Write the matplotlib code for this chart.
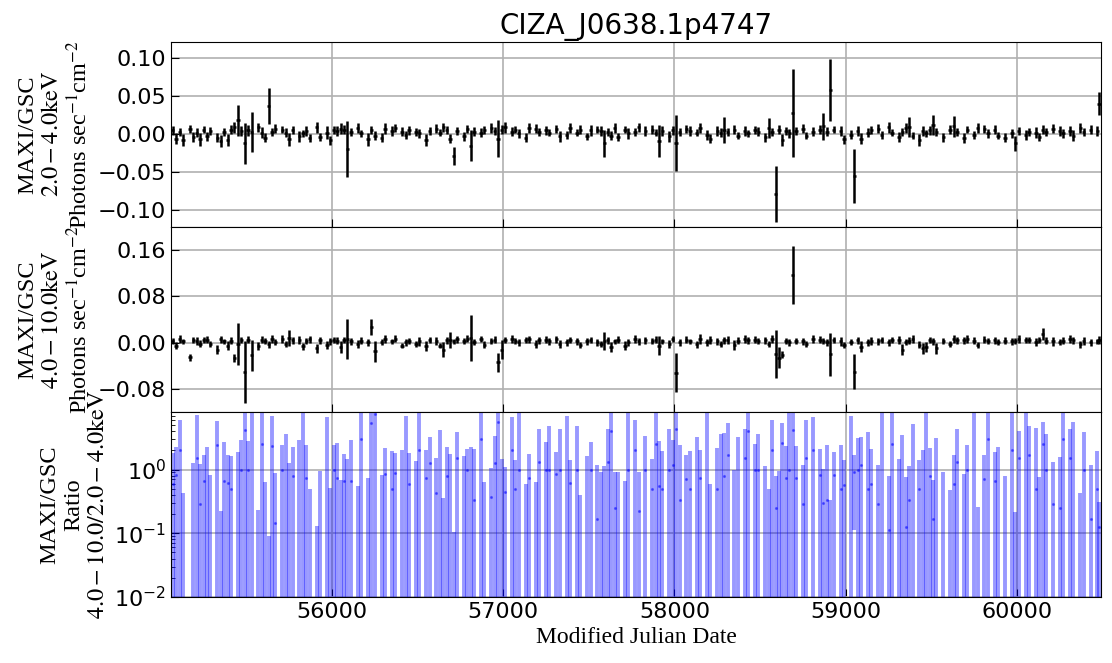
import numpy as np
import matplotlib
matplotlib.use('Agg')
import matplotlib.pyplot as plt

plt.rcParams['mathtext.fontset'] = 'stix'

# bin centres (MJD) of the light curve
mjd = [55070, 55090, 55110, 55130, 55150, 55170, 55190, 55210, 55230, 55250,
       55270, 55290, 55310, 55330, 55350, 55370, 55390, 55410, 55430, 55450,
       55470, 55490, 55510, 55530, 55550, 55570, 55590, 55610, 55630, 55650,
       55670, 55690, 55710, 55730, 55750, 55770, 55790, 55810, 55830, 55850,
       55870, 55890, 55910, 55930, 55950, 55970, 55990, 56010, 56030, 56050,
       56070, 56090, 56110, 56130, 56150, 56170, 56190, 56210, 56230, 56250,
       56270, 56290, 56310, 56330, 56350, 56370, 56390, 56410, 56430, 56450,
       56470, 56490, 56510, 56530, 56550, 56570, 56590, 56610, 56630, 56650,
       56670, 56690, 56710, 56730, 56750, 56770, 56790, 56810, 56830, 56850,
       56870, 56890, 56910, 56930, 56950, 56970, 56990, 57010, 57030, 57050,
       57070, 57090, 57110, 57130, 57150, 57170, 57190, 57210, 57230, 57250,
       57270, 57290, 57310, 57330, 57350, 57370, 57390, 57410, 57430, 57450,
       57470, 57490, 57510, 57530, 57550, 57570, 57590, 57610, 57630, 57650,
       57670, 57690, 57710, 57730, 57750, 57770, 57790, 57810, 57830, 57850,
       57870, 57890, 57910, 57930, 57950, 57970, 57990, 58010, 58030, 58050,
       58070, 58090, 58110, 58130, 58150, 58170, 58190, 58210, 58230, 58250,
       58270, 58290, 58310, 58330, 58350, 58370, 58390, 58410, 58430, 58450,
       58470, 58490, 58510, 58530, 58550, 58570, 58590, 58610, 58630, 58650,
       58670, 58690, 58710, 58730, 58750, 58770, 58790, 58810, 58830, 58850,
       58870, 58890, 58910, 58930, 58950, 58970, 58990, 59010, 59030, 59050,
       59070, 59090, 59110, 59130, 59150, 59170, 59190, 59210, 59230, 59250,
       59270, 59290, 59310, 59330, 59350, 59370, 59390, 59410, 59430, 59450,
       59470, 59490, 59510, 59530, 59550, 59570, 59590, 59610, 59630, 59650,
       59670, 59690, 59710, 59730, 59750, 59770, 59790, 59810, 59830, 59850,
       59870, 59890, 59910, 59930, 59950, 59970, 59990, 60010, 60030, 60050,
       60070, 60090, 60110, 60130, 60150, 60170, 60190, 60210, 60230, 60250,
       60270, 60290, 60310, 60330, 60350, 60370, 60390, 60410, 60430, 60450,
       60470, 60480]

# bins without a measurement
gaps = [55150, 55310, 55550, 55690, 55790, 55890, 55950,
        56130, 56190, 56270, 56330, 56390, 56470, 56530, 56590, 56750,
        56850, 56910, 57030, 57110, 57170, 57230, 57290, 57350, 57410,
        57470, 57530, 57690, 57750, 57810, 57850, 57950, 58050, 58110,
        58170, 58230, 58330, 58390, 58450, 58510, 58730, 58790, 58830,
        58950, 59010, 59110, 59170, 59230, 59290, 59410, 59550, 59590,
        59670, 59730, 59790, 59850, 59910, 59950, 60030, 60090, 60190,
        60230, 60290, 60350, 60410, 60450]

# 2.0-4.0 keV flux, units of 1e-3 photons/s/cm2
soft = [5, -6, 3, -8, 4, 7, -4, 2, -7, 6,
        -3, 4, 8, -5, -9, 3, -8, 6, 9, 18,
        4, -12, 5, 3, -6, 9, 2, -5, 37, 3,
        7, -4, 6, 2, -7, 5, 8, -3, 1, 4,
        -5, 6, 9, -4, 3, 2, -8, 5, 4, 7,
        6, -20, 3, -6, 8, 1, 4, -7, 5, -2,
        3, -5, 7, 2, 4, 8, -6, 3, -1, 5,
        -4, 3, 1, 6, -8, 4, -10, 7, 2, 9,
        5, -6, -29, 4, 9, -3, 7, -15, 3, 6,
        2, 5, -7, 8, 4, -6, 6, 9, -2, 3,
        6, 1, 4, -5, 8, -2, 7, 3, -6, 5,
        2, 4, 7, -3, 5, -1, 8, -4, 2, 6,
        7, -3, 5, 2, 6, 4, -12, 3, -2, 8,
        -4, 5, 6, 1, -7, 3, 9, -2, 4, -5,
        6, 2, -9, 4, 7, -3, 5, -12, 3, 1,
        7, 4, -5, 2, 8, 3, -1, -6, 5, 4,
        2, 5, 3, -7, 6, -2, 9, 4, 1, -4,
        5, 3, 8, -4, 8, 3, -79, 6, -8, 4,
        1, 28, 4, -6, 7, -2, 9, 3, -5, 6,
        10, 3, 58, 6, 2, 4, -7, 5, -1, -55,
        4, -6, 8, 2, 5, -3, 7, -1, 4, 9,
        2, 6, -4, 3, 8, 9, -2, 6, -8, 4,
        1, 5, 12, 3, 8, -4, -2, 6, 10, 3,
        2, -5, 6, 4, -1, 8, -3, 7, 1, 4,
        6, -2, 3, -5, 9, 1, -12, 4, 7, -1,
        3, 8, 2, -4, 6, 3, -2, 7, -5, 4,
        1, 6, 4, -2, -5, 8, 3, 1, 6, -3,
        4, 40]
soft_err = [6, 7, 5, 8, 6, 5, 7, 6, 8, 5,
            6, 5, 7, 6, 8, 5, 8, 6, 7, 20,
            6, 27, 7, 26, 5, 6, 7, 6, 24, 5,
            6, 7, 5, 6, 8, 5, 6, 7, 5, 6,
            5, 6, 7, 5, 6, 8, 6, 5, 6, 7,
            6, 37, 5, 6, 7, 5, 6, 8, 5, 6,
            5, 6, 7, 5, 6, 5, 8, 6, 5, 6,
            6, 5, 6, 7, 8, 5, 8, 6, 5, 6,
            5, 6, 12, 5, 7, 6, 5, 20, 6, 5,
            6, 5, 7, 6, 5, 24, 6, 7, 5, 6,
            5, 6, 5, 6, 7, 5, 6, 5, 7, 6,
            5, 6, 5, 7, 6, 5, 6, 7, 5, 6,
            6, 5, 7, 6, 5, 6, 18, 5, 6, 7,
            5, 6, 5, 7, 6, 5, 6, 5, 7, 6,
            6, 5, 21, 6, 5, 7, 6, 37, 5, 6,
            5, 6, 7, 5, 6, 5, 7, 6, 5, 6,
            6, 17, 5, 7, 6, 5, 8, 6, 5, 6,
            5, 6, 7, 6, 13, 5, 37, 6, 8, 5,
            6, 58, 5, 7, 6, 5, 8, 6, 5, 6,
            18, 6, 41, 5, 6, 7, 6, 5, 6, 35,
            6, 7, 5, 6, 5, 7, 6, 5, 6, 7,
            5, 6, 7, 5, 6, 13, 5, 7, 8, 6,
            5, 6, 13, 5, 7, 6, 5, 6, 14, 5,
            6, 7, 5, 6, 5, 7, 6, 5, 6, 5,
            6, 5, 7, 6, 5, 6, 10, 5, 6, 7,
            5, 6, 7, 5, 6, 5, 7, 6, 5, 6,
            6, 5, 6, 7, 5, 6, 5, 7, 6, 5,
            6, 15]

# 4.0-10.0 keV flux, units of 1e-3 photons/s/cm2
hard = [3, -5, 6, 2, -4, -25, 5, 3, -2, 4,
        5, -3, 1, -12, 6, 2, -5, 3, -27, -2,
        4, -51, 5, -22, 2, -6, 5, 3, -3, 7,
        1, 5, 6, -3, 8, 4, 2, 5, -6, 3,
        6, 1, -10, 4, 7, -4, 2, 5, 3, -8,
        4, 6, 2, 5, -3, 3, 7, 1, 27, -15,
        3, 1, 6, -4, 2, 7, 4, -5, 1, 3,
        5, -3, 2, 4, -6, 5, 1, 3, -5, -12,
        4, 4, 2, 6, -3, 3, 7, 8, 1, 4,
        6, -4, 2, 3, 5, -34, -12, 4, 1, 6,
        3, 1, -5, 4, 6, 2, -3, 4, 1, 5,
        2, 4, 6, -3, 4, 1, 5, 3, 2, -4,
        4, 2, 5, 3, 1, -3, 3, 4, -8, 2,
        5, 3, -5, 1, 4, 6, 2, -3, 4, 1,
        3, 5, -5, 2, 4, -3, 6, -52, 1, 3,
        5, 2, 4, -3, 6, 3, 1, 5, 4, 2,
        -3, 4, 5, 1, -4, 3, 2, 6, 4, 1,
        5, 3, 1, 4, -3, 6, -20, -26, -21, 3,
        1, 117, 3, 5, 2, -3, 4, 6, 1, 5,
        3, 1, -20, 5, 4, 2, -4, 3, 1, -50,
        4, -7, 5, 1, 3, 4, 2, 5, 3, 1,
        5, 2, 4, -12, 1, 3, 6, 2, -4, -10,
        -8, 4, 2, -10, 5, 3, 1, -3, 6, 4,
        2, 4, 6, 1, 3, -4, 2, 5, 3, 1,
        4, 1, 5, 3, -4, 2, 3, 6, 1, 4,
        5, 3, 1, 4, 15, 3, 5, 2, 4, 1,
        3, 1, 6, 4, 2, -3, 3, 5, 1, 4,
        2, 5]
hard_err = [5, 6, 7, 5, 6, 6, 5, 7, 6, 5,
            6, 5, 7, 8, 6, 5, 7, 6, 7, 36,
            5, 53, 6, 27, 5, 7, 6, 5, 6, 7,
            5, 6, 7, 5, 14, 6, 5, 7, 6, 5,
            6, 5, 8, 6, 5, 7, 6, 5, 6, 10,
            5, 34, 6, 5, 7, 6, 5, 6, 13, 18,
            6, 5, 7, 6, 5, 6, 7, 5, 6, 5,
            6, 5, 7, 6, 8, 5, 6, 7, 5, 13,
            6, 14, 5, 6, 7, 5, 6, 40, 5, 6,
            5, 6, 7, 5, 6, 16, 17, 5, 6, 7,
            5, 6, 7, 5, 6, 5, 7, 6, 5, 6,
            6, 5, 6, 7, 5, 6, 5, 7, 6, 5,
            5, 6, 5, 7, 6, 5, 16, 6, 9, 5,
            6, 5, 8, 6, 5, 7, 6, 5, 6, 7,
            5, 6, 17, 5, 6, 7, 5, 34, 6, 5,
            6, 5, 7, 6, 9, 5, 6, 7, 5, 6,
            5, 6, 7, 5, 9, 6, 5, 7, 6, 5,
            6, 5, 7, 6, 5, 7, 41, 18, 6, 5,
            6, 50, 5, 7, 6, 5, 6, 7, 5, 6,
            5, 6, 37, 5, 6, 7, 5, 6, 5, 30,
            6, 9, 5, 6, 7, 5, 6, 5, 7, 6,
            5, 6, 7, 10, 5, 6, 7, 5, 6, 10,
            9, 5, 6, 10, 7, 5, 6, 5, 7, 6,
            5, 6, 7, 5, 6, 5, 7, 6, 5, 6,
            6, 5, 7, 6, 5, 6, 5, 7, 6, 5,
            5, 6, 7, 5, 10, 6, 5, 7, 6, 5,
            6, 5, 7, 6, 5, 6, 7, 5, 6, 7,
            5, 7]

t = np.array(mjd, dtype=float)
keep = ~np.isin(t, gaps)
t = t[keep]
s = np.array(soft, dtype=float)[keep] * 1e-3
se = np.array(soft_err, dtype=float)[keep] * 1e-3
h = np.array(hard, dtype=float)[keep] * 1e-3
he = np.array(hard_err, dtype=float)[keep] * 1e-3

# hardness ratio and propagated error
ratio = h / s
ratio_err = np.sqrt((he / s) ** 2 + (h * se / s ** 2) ** 2)

fig, (ax1, ax2, ax3) = plt.subplots(3, 1, sharex=True, figsize=(11.12, 6.63), dpi=100)
fig.subplots_adjust(left=0.1538, right=0.990, top=0.9367, bottom=0.0995, hspace=0)

ax1.errorbar(t, s, xerr=10, yerr=se, fmt='none', ecolor='k', elinewidth=1.8)
ax2.errorbar(t, h, xerr=10, yerr=he, fmt='none', ecolor='k', elinewidth=1.8)
ax3.errorbar(t, ratio, yerr=ratio_err, fmt='.', color='blue', ms=2.5,
             ecolor='blue', elinewidth=2.8, alpha=0.4)

ax1.set_ylim(-0.122, 0.121)
ax1.set_yticks([-0.10, -0.05, 0.00, 0.05, 0.10])
ax2.set_ylim(-0.12, 0.20)
ax2.set_yticks([-0.08, 0.00, 0.08, 0.16])
ax3.set_yscale('log')
ax3.set_ylim(0.01, 8)
ax3.set_xlim(55060, 60490)
ax3.set_xticks([56000, 57000, 58000, 59000, 60000])

lab = dict(fontsize=17.5, family='Liberation Serif')
ax1.set_ylabel('MAXI/GSC\n$\\mathrm{2.0-4.0keV}$\nPhotons sec$^{-1}$cm$^{-2}$', **lab)
ax2.set_ylabel('MAXI/GSC\n$\\mathrm{4.0-10.0keV}$\nPhotons sec$^{-1}$cm$^{-2}$', **lab)
ax3.set_ylabel('MAXI/GSC\nRatio\n$\\mathrm{4.0-10.0/2.0-4.0keV}$', **lab)
ax3.set_xlabel('Modified Julian Date', fontsize=17, family='Liberation Serif')
ax1.set_title('CIZA_J0638.1p4747', fontsize=20)

for ax in (ax1, ax2, ax3):
    ax.grid(True, color='#b0b0b0', lw=1.2)
    ax.tick_params(direction='in', labelsize=16, length=6)
    ax.tick_params(which='minor', direction='in', length=3)

plt.savefig('out.png')
